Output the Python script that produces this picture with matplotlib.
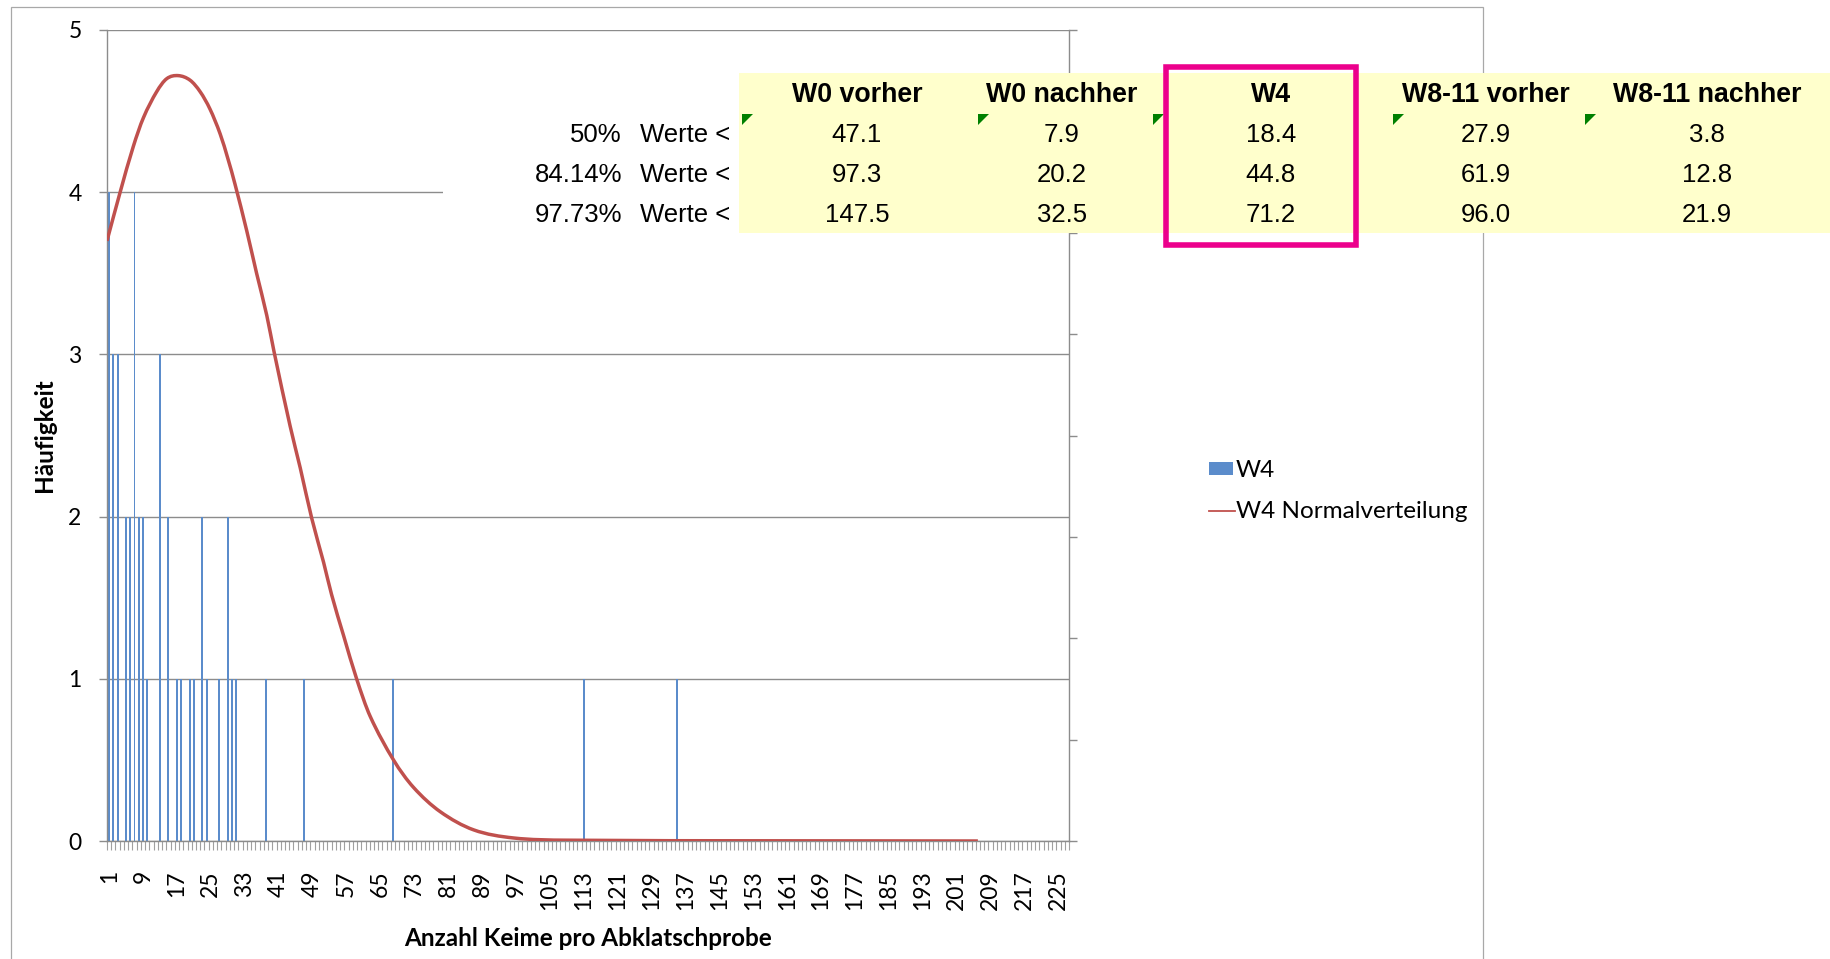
import numpy as np
import matplotlib
matplotlib.use("Agg")
import matplotlib.pyplot as plt
from matplotlib.patches import Rectangle, Polygon, PathPatch
from matplotlib.lines import Line2D
from matplotlib.path import Path
from matplotlib.ticker import FixedLocator

# ---------------- data ----------------
categories = list(range(1, 228))               # Anzahl Keime 1 .. 227
tick_labels = categories[::8]                  # 1, 9, 17, ... 225

bar_values = [1, 2, 3, 5, 6, 7, 8, 9, 10, 13, 15, 17, 18, 20, 21, 23, 24,
              27, 29, 30, 31, 38, 47, 68, 113, 135]
bar_counts = [4, 3, 3, 2, 2, 4, 2, 2, 1, 3, 2, 1, 1, 1, 1, 2, 1,
              1, 2, 1, 1, 1, 1, 1, 1, 1]

# normal curve (secondary axis), positions on the category axis
curve_pos = [0.5, 3.6, 6.7, 9.1, 12.2, 14.6, 17.3, 20.1, 22.5, 24.8, 27.2,
             29.1, 30.7, 33.5, 35.8, 38.2, 39.9, 43.7, 46.1, 48.8, 51.6,
             53.5, 56.3, 59.4, 62.6, 68.1, 72.8, 79.1, 87.0, 96.4, 109.0, 206.0]
curve_density = [0.01184, 0.01280, 0.01370, 0.01427, 0.01478, 0.01504, 0.01510,
                 0.01501, 0.01478, 0.01444, 0.01395, 0.01344, 0.01296, 0.01203,
                 0.01120, 0.01037, 0.00966, 0.00819, 0.00736, 0.00637, 0.00550,
                 0.00486, 0.00406, 0.00320, 0.00246, 0.00160, 0.00106, 0.00058,
                 0.00022, 0.00006, 0.000016, 0.0]

table_columns = ["W0 vorher", "W0 nachher", "W4", "W8-11 vorher", "W8-11 nachher"]
row_percent = ["50%", "84.14%", "97.73%"]
w0_vorher = [47.1, 97.3, 147.5]
w0_nachher = [7.9, 20.2, 32.5]
w4 = [18.4, 44.8, 71.2]
w811_vorher = [27.9, 61.9, 96.0]
w811_nachher = [3.8, 12.8, 21.9]

# ---------------- layout helpers ----------------
W, H = 1830, 959
fig = plt.figure(figsize=(W / 100, H / 100), dpi=100)
fig.patch.set_facecolor("white")

def fx(px):
    return px / W

def fy(py):
    return 1 - py / H

GRID = "#8c8c8c"
BAR = "#5b8ccb"
RED = "#C0504D"
FONT = "Lato"
TFONT = "Liberation Sans"
TICK_FS = 16.5
TITLE_FS = 17.5
LEG_FS = 17.5

# chart border
fig.add_artist(Rectangle((fx(10.5), fy(975)), fx(1483 - 10.5), (975 - 7) / H,
                         transform=fig.transFigure, fill=False,
                         edgecolor="#a8a8a8", lw=0.9, zorder=0.5))

ax_left, ax_right, ax_top, ax_bot = 107, 1069, 30, 841
ax = fig.add_axes([fx(ax_left), fy(ax_bot), fx(ax_right - ax_left), (ax_bot - ax_top) / H])
ax.set_facecolor("none")
ax.set_xlim(0.5, len(categories) + 0.5)
ax.set_ylim(0, 5)

ax.bar(bar_values, bar_counts, width=0.45, color=BAR, zorder=2, linewidth=0)

ax.set_yticks(range(0, 6))
ax.yaxis.grid(True, color=GRID, lw=1.0)
ax.set_axisbelow(True)
for s in ["top", "right"]:
    ax.spines[s].set_visible(False)
for s in ["left", "bottom"]:
    ax.spines[s].set_color(GRID)
    ax.spines[s].set_linewidth(1.0)
ax.tick_params(axis="y", direction="out", length=5.8, width=1.0, color=GRID,
               labelsize=TICK_FS, pad=12.5, labelfontfamily=FONT)

ax.set_xticks(tick_labels)
ax.set_xticklabels([str(v) for v in tick_labels], rotation=90, fontfamily=FONT,
                   fontsize=TICK_FS)
ax.tick_params(axis="x", which="major", length=0, pad=21)
ax.xaxis.set_minor_locator(FixedLocator(np.arange(0.5, len(categories) + 1, 1)))
ax.tick_params(axis="x", which="minor", direction="out", length=6.5, width=0.8,
               color="#a0a0a0")

ax2 = ax.twinx()
ax2.set_ylim(0, 0.016)
ax2.set_yticks(np.arange(0, 0.0161, 0.002))
ax2.set_yticklabels([])
ax2.tick_params(axis="y", direction="out", length=5.8, width=1.0, color=GRID)
for s in ["top", "left", "bottom"]:
    ax2.spines[s].set_visible(False)
ax2.spines["right"].set_color(GRID)
ax2.spines["right"].set_linewidth(1.0)

# smoothed line (Excel "smoothed line" style): cubic Bezier through the read points
xs = np.array(curve_pos, dtype=float)
ys = np.array(curve_density, dtype=float)
n = len(xs)
slopes = np.empty(n)
slopes[0] = (ys[1] - ys[0]) / (xs[1] - xs[0])
slopes[-1] = (ys[-1] - ys[-2]) / (xs[-1] - xs[-2])
for i in range(1, n - 1):
    slopes[i] = (ys[i + 1] - ys[i - 1]) / (xs[i + 1] - xs[i - 1])
verts = [(xs[0], ys[0])]
codes = [Path.MOVETO]
for i in range(n - 1):
    h = xs[i + 1] - xs[i]
    verts += [(xs[i] + h / 3, ys[i] + slopes[i] * h / 3),
              (xs[i + 1] - h / 3, ys[i + 1] - slopes[i + 1] * h / 3),
              (xs[i + 1], ys[i + 1])]
    codes += [Path.CURVE4] * 3
ax2.add_patch(PathPatch(Path(verts, codes), fill=False, edgecolor=RED, lw=2.5,
                        capstyle="butt", joinstyle="round"))

# axis titles
fig.text(fx(44), fy(435), "Häufigkeit", rotation=90, ha="center", va="center",
         fontsize=TITLE_FS, fontweight="bold", fontfamily=FONT)
fig.text(fx(588), fy(938), "Anzahl Keime pro Abklatschprobe", ha="center",
         va="center", fontsize=TITLE_FS, fontweight="bold", fontfamily=FONT)

# legend
fig.add_artist(Rectangle((fx(1209), fy(475)), fx(24), 13 / H, transform=fig.transFigure,
                         facecolor=BAR, edgecolor="none", zorder=5))
fig.text(fx(1236), fy(470), "W4", ha="left", va="center", fontsize=LEG_FS, fontfamily=FONT)
fig.add_artist(Line2D([fx(1209), fx(1235)], [fy(511), fy(511)], transform=fig.transFigure,
                      color=RED, lw=1.3, zorder=5))
fig.text(fx(1236), fy(512), "W4 Normalverteilung", ha="left", va="center",
         fontsize=LEG_FS, fontfamily=FONT)

# ---------------- table overlay ----------------
tab_top, tab_bot = 73, 233
fig.add_artist(Rectangle((fx(443), fy(tab_bot)), fx(739 - 443), (tab_bot - tab_top) / H,
                         transform=fig.transFigure, facecolor="white", edgecolor="none",
                         zorder=10))
fig.add_artist(Rectangle((fx(739), fy(tab_bot)), fx(W - 739), (tab_bot - tab_top) / H,
                         transform=fig.transFigure, facecolor="#FFFFCC", edgecolor="none",
                         zorder=10))

col_x = [857, 1062, 1271, 1486, 1707]
header_y = 94.5
row_y = [134.5, 175.0, 214.5]
columns_values = [w0_vorher, w0_nachher, w4, w811_vorher, w811_nachher]
for cx, name, vals in zip(col_x, table_columns, columns_values):
    fig.text(fx(cx), fy(header_y), name, ha="center", va="center", fontsize=19.3,
             fontweight="bold", fontfamily=TFONT, zorder=11)
    for ry, v in zip(row_y, vals):
        fig.text(fx(cx), fy(ry), f"{v:.1f}", ha="center", va="center", fontsize=18.5,
                 fontfamily=TFONT, zorder=11)

for ry, p in zip(row_y, row_percent):
    fig.text(fx(622), fy(ry), p, ha="right", va="center", fontsize=18.5,
             fontfamily=TFONT, zorder=11)
    fig.text(fx(640), fy(ry), "Werte <", ha="left", va="center", fontsize=18.5,
             fontfamily=TFONT, zorder=11)

# green comment markers
for tx in [742, 978, 1153, 1393, 1585]:
    ty = 114
    fig.add_artist(Polygon([[fx(tx), fy(ty)], [fx(tx + 11), fy(ty)], [fx(tx), fy(ty + 11)]],
                           closed=True, transform=fig.transFigure, facecolor="#008000",
                           edgecolor="none", zorder=12))

# pink highlight box around W4 column
fig.add_artist(Rectangle((fx(1165.5), fy(245)), fx(1356 - 1165.5), (245 - 67) / H,
                         transform=fig.transFigure, fill=False, edgecolor="#EC008C",
                         lw=4.0, zorder=13))

fig.savefig("out.png", dpi=100)
